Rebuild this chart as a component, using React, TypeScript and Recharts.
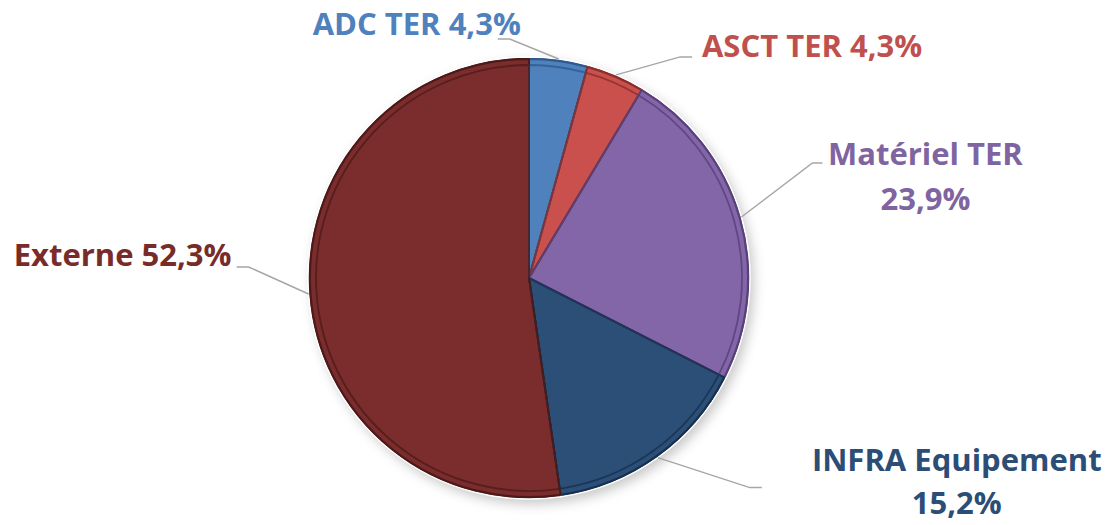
import React from "react";
import { PieChart, Pie, Cell } from "recharts";

const categories = ["ADC TER", "ASCT TER", "Matériel TER", "INFRA Equipement", "Externe"];
const values = [4.3, 4.3, 23.9, 15.2, 52.3];
const valueLabels = ["4,3%", "4,3%", "23,9%", "15,2%", "52,3%"];
const labelLines: string[][] = [
  ["ADC TER 4,3%"],
  ["ASCT TER 4,3%"],
  ["Matériel TER", "23,9%"],
  ["INFRA Equipement", "15,2%"],
  ["Externe 52,3%"],
];

const colors = ["#4F81BD", "#C9504C", "#8366A8", "#2C4F78", "#7A2D2C"];
const darkColors = ["#2E5A8E", "#8A2E2B", "#58407A", "#17304F", "#4E1A19"];
const textColors = ["#4F81BD", "#C0504D", "#8064A2", "#2C4D75", "#772C2A"];

// label layout offsets relative to the slice edge point (style)
const elbowOff = [[-49, -20], [64, -18], [71, -54], [92, 30], [-60, -27]];
const endOff = [[-61, -20], [76, -18], [81, -54], [104, 30], [-72, -27]];
const textOff = [[-142, -24], [196, -18], [184, -52], [299, 13], [-186, -28]];
const lineGaps = [45, 45, 45, 43, 45];

const data = categories.map((name, i) => ({ name, value: values[i], label: valueLabels[i] }));

const RAD = Math.PI / 180;

const renderLabel = (props: any) => {
  const { cx, cy, midAngle, outerRadius, index } = props;
  const ex = cx + outerRadius * Math.cos(-midAngle * RAD);
  const ey = cy + outerRadius * Math.sin(-midAngle * RAD);
  const [bx, by] = elbowOff[index];
  const [hx, hy] = endOff[index];
  const [tx, ty] = textOff[index];
  const lines = labelLines[index];
  return (
    <g>
      <polyline
        points={`${ex},${ey} ${ex + bx},${ey + by} ${ex + hx},${ey + hy}`}
        fill="none"
        stroke="#A6A6A6"
        strokeWidth={1.5}
      />
      <text
        x={ex + tx}
        y={ey + ty}
        textAnchor="middle"
        fill={textColors[index]}
        style={{ fontFamily: "'Open Sans', sans-serif", fontWeight: 700, fontSize: 31 }}
      >
        {lines.map((l, k) => (
          <tspan key={k} x={ex + tx} y={ey + ty + k * lineGaps[index]}>
            {l}
          </tspan>
        ))}
      </text>
    </g>
  );
};

export default function App() {
  return (
    <div style={{ position: "absolute", left: 0, top: 0, width: 1107, height: 525, background: "#fff" }}>
      <PieChart width={1107} height={525} margin={{ top: 0, right: 0, bottom: 0, left: 0 }}>
        <defs>
          <filter id="pieShadow" x="-20%" y="-20%" width="140%" height="140%">
            <feGaussianBlur stdDeviation="6" />
          </filter>
        </defs>
        <Pie
          data={[{ value: 1 }]}
          dataKey="value"
          cx={533}
          cy={283}
          outerRadius={221}
          startAngle={90}
          endAngle={-270}
          fill="#000"
          fillOpacity={0.22}
          stroke="none"
          filter="url(#pieShadow)"
          isAnimationActive={false}
          label={false}
          labelLine={false}
        />
        <Pie
          data={data}
          dataKey="value"
          cx={529}
          cy={278}
          outerRadius={221}
          startAngle={90}
          endAngle={-270}
          stroke="#fff"
          strokeWidth={1.5}
          isAnimationActive={false}
          labelLine={false}
          label={false}
        >
          {data.map((d, i) => (
            <Cell key={i} fill={darkColors[i]} />
          ))}
        </Pie>
        <Pie
          data={data}
          dataKey="value"
          cx={529}
          cy={278}
          outerRadius={219}
          startAngle={90}
          endAngle={-270}
          strokeWidth={2}
          isAnimationActive={false}
          labelLine={false}
          label={false}
        >
          {data.map((d, i) => (
            <Cell key={i} fill={colors[i]} stroke={darkColors[i]} />
          ))}
        </Pie>
        <Pie
          data={data}
          dataKey="value"
          cx={529}
          cy={278}
          outerRadius={213}
          startAngle={90}
          endAngle={-270}
          strokeWidth={1.8}
          isAnimationActive={false}
          labelLine={false}
          label={false}
        >
          {data.map((d, i) => (
            <Cell key={i} fill="none" stroke={darkColors[i]} strokeOpacity={0.8} />
          ))}
        </Pie>
        <Pie
          data={data}
          dataKey="value"
          cx={529}
          cy={278}
          outerRadius={221}
          startAngle={90}
          endAngle={-270}
          fill="none"
          stroke="none"
          isAnimationActive={false}
          labelLine={false}
          label={renderLabel}
        />
      </PieChart>
    </div>
  );
}
